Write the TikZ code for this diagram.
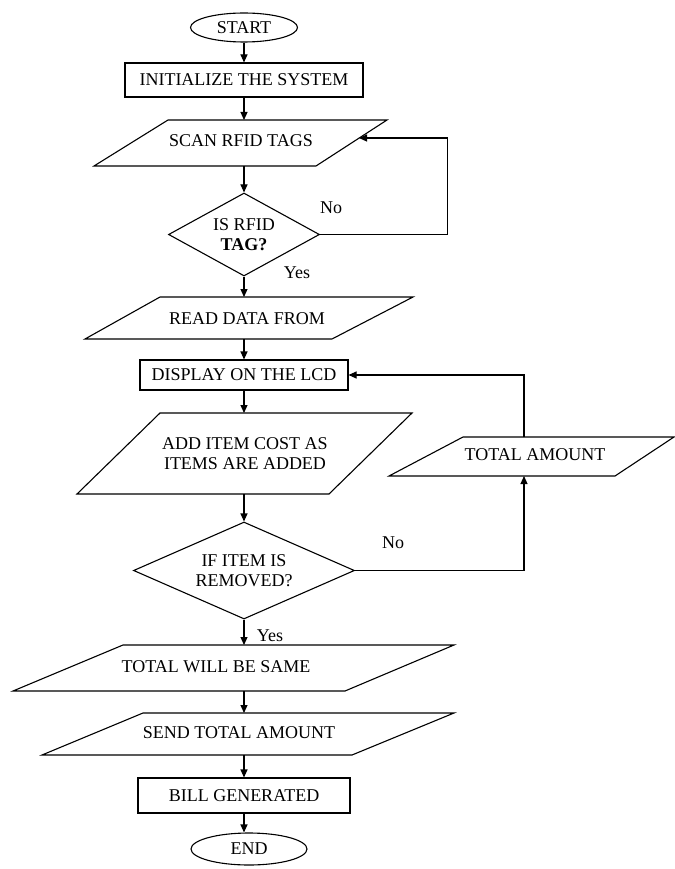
\documentclass[tikz,border=0pt]{standalone}
\usepackage{fontspec}
\setmainfont{Liberation Serif}
\usetikzlibrary{shapes.geometric,arrows.meta}
\begin{document}
\begin{tikzpicture}[x=1pt,y=-1pt,
  line width=1.1pt,
  every node/.style={font=\fontsize{18}{20}\selectfont, text=black},
  box/.style={draw, rectangle, inner sep=0pt, align=center},
  term/.style={draw, ellipse, inner sep=0pt},
  dec/.style={draw, diamond, inner sep=0pt, align=center, aspect=1.8},
  txt/.style={inner sep=0pt, align=center},
  lbl/.style={inner sep=0pt},
  arr/.style={-{Triangle[length=8pt,width=7pt]}}
]
\useasboundingbox (0,0) rectangle (674,869);

% START / INIT
\node[term, minimum width=107pt, minimum height=29pt] (start) at (244,27.5) {START};
\node[box, minimum width=238pt, minimum height=34pt] (init) at (244,80) {INITIALIZE THE SYSTEM};

% SCAN RFID TAGS
\draw (168,120) -- (387,120) -- (316,166) -- (94,166) -- cycle;
\node[txt] (scan) at (241,141) {SCAN RFID TAGS};
\coordinate (scanN) at (244,120);
\coordinate (scanS) at (244,166);
\coordinate (scanR) at (359,138);

% decision 1
\node[dec, minimum width=151pt, minimum height=83pt] (d1) at (244,234.5) {IS RFID\\\textbf{TAG?}};

% READ DATA FROM
\draw (160,297) -- (413,297) -- (332,339) -- (85,339) -- cycle;
\node[txt] (read) at (247,319) {READ DATA FROM};
\coordinate (readN) at (244,297);
\coordinate (readS) at (244,339);

% DISPLAY
\node[box, minimum width=208pt, minimum height=30pt] (disp) at (244,375) {DISPLAY ON THE LCD};

% ADD ITEM COST
\draw (160,413) -- (412,413) -- (329,494) -- (77,494) -- cycle;
\node[txt] (add) at (245,453.5) {ADD ITEM COST AS\\ITEMS ARE ADDED};
\coordinate (addN) at (244,413);
\coordinate (addS) at (244,494);

% decision 2
\node[dec, minimum width=221pt, minimum height=97pt] (d2) at (244,570.5) {IF ITEM IS\\REMOVED?};

% TOTAL AMOUNT
\draw (463,437) -- (674,437) -- (615,476) -- (389,476) -- cycle;
\node[txt] (tot) at (535,455) {TOTAL AMOUNT};
\coordinate (totN) at (524,437);
\coordinate (totS) at (524,476);

% TOTAL WILL BE SAME
\draw (123,645) -- (454,645) -- (345,691) -- (13,691) -- cycle;
\node[txt] (same) at (216,667) {TOTAL WILL BE SAME};
\coordinate (sameN) at (244,645);
\coordinate (sameS) at (244,691);

% SEND TOTAL AMOUNT
\draw (143,713) -- (454,713) -- (352,755) -- (42,755) -- cycle;
\node[txt] (send) at (239,733) {SEND TOTAL AMOUNT};
\coordinate (sendN) at (244,713);
\coordinate (sendS) at (244,755);

% BILL / END
\node[box, minimum width=212pt, minimum height=35pt] (bill) at (244,795.5) {BILL GENERATED};
\node[term, minimum width=116pt, minimum height=32pt] (end) at (249,849) {END};

% main flow
\draw[arr] (start) -- (init);
\draw[arr] (init) -- (scanN);
\draw[arr] (scanS) -- (d1);
\draw[arr] (d1) -- (readN);
\draw[arr] (readS) -- (disp);
\draw[arr] (disp) -- (addN);
\draw[arr] (addS) -- (d2);
\draw[arr] (d2) -- (sameN);
\draw[arr] (sameS) -- (sendN);
\draw[arr] (sendS) -- (bill);
\draw[arr] (bill.south) -- (bill.south |- end.north);

% loops
\draw[arr] (d1.east) -- ++(127,0) |- (scanR);
\draw[arr] (d2.east) -| (totS);
\draw[arr] (totN) |- (disp.east);

% labels
\node[lbl] (no1) at (331,208) {No};
\node[lbl] (yes1) at (297,273) {Yes};
\node[lbl] (no2) at (393,543) {No};
\node[lbl] (yes2) at (270,636) {Yes};
\end{tikzpicture}
\end{document}
